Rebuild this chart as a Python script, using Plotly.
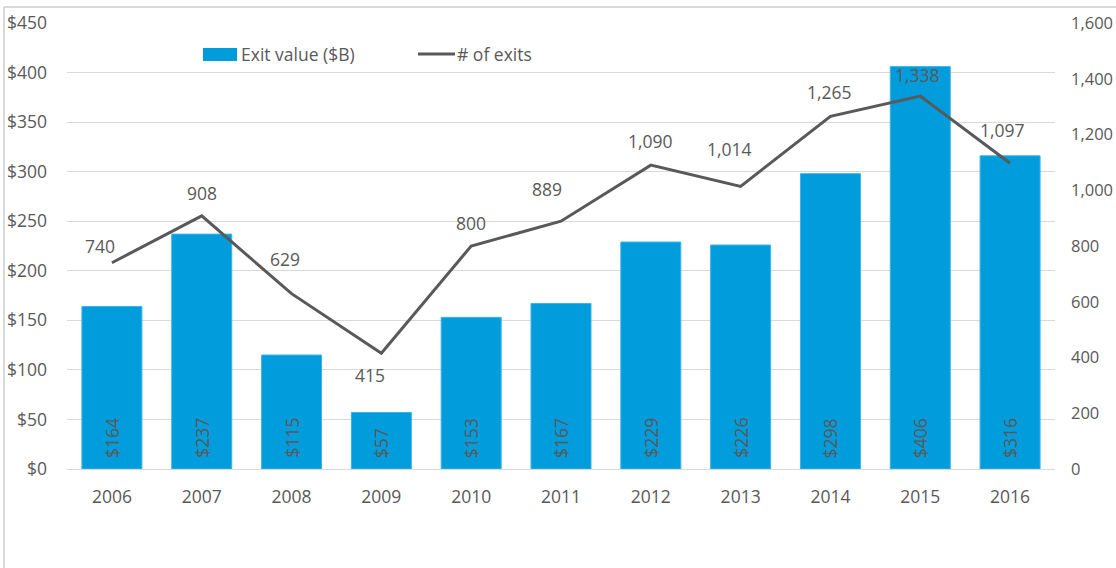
import plotly.graph_objects as go

years = ["2006", "2007", "2008", "2009", "2010", "2011", "2012", "2013", "2014", "2015", "2016"]
exit_value = [164, 237, 115, 57, 153, 167, 229, 226, 298, 406, 316]
num_exits = [740, 908, 629, 415, 800, 889, 1090, 1014, 1265, 1338, 1097]

# label offsets (style) for the line labels, in pixels (dx, dy up)
line_label_dx = [-12, 0, -7, -11, 0, -14, 0, -11, -1, -3, -8]
line_label_dy = [17, 23, 35, -22, 23, 32, 24, 37, 24, 21, 33]

FONT = "Open Sans, Noto Sans, sans-serif"
GREY = "#595959"
FS = 17.5
BLUE = "#009CDC"

# plot area in pixels
L, R, T, B = 67, 61, 23, 99
W, H = 1116, 568
PW, PH = W - L - R, H - T - B


def px(x):
    return (x - L) / PW


def py(y):
    return (H - B - y) / PH


fig = go.Figure()
fig.add_trace(go.Bar(
    x=years, y=exit_value, name="Exit value ($B)",
    marker=dict(color=BLUE, line=dict(color="#3BB3E6", width=1)),
    yaxis="y", showlegend=False,
))
fig.add_trace(go.Scatter(
    x=years, y=num_exits, name="# of exits", mode="lines",
    line=dict(color=GREY, width=3),
    yaxis="y2", showlegend=False,
))

annotations = []
# category axis: annotation x given as category index
for i, v in enumerate(exit_value):
    annotations.append(dict(
        x=i, y=0, xref="x", yref="y", text=f"${v}", showarrow=False,
        textangle=-90, xanchor="center", yanchor="bottom", yshift=9,
        font=dict(family=FONT, size=FS, color=GREY),
    ))
for i, (v, dx, dy) in enumerate(zip(num_exits, line_label_dx, line_label_dy)):
    annotations.append(dict(
        x=i, y=v, xref="x", yref="y2", text=f"{v:,}", showarrow=False,
        xanchor="center", yanchor="middle", xshift=dx, yshift=dy,
        font=dict(family=FONT, size=FS, color=GREY),
    ))

# custom legend
annotations.append(dict(x=px(239), y=py(54), xref="paper", yref="paper",
                        text="Exit value ($B)", showarrow=False, xanchor="left",
                        yanchor="middle", font=dict(family=FONT, size=FS, color=GREY)))
annotations.append(dict(x=px(455), y=py(54), xref="paper", yref="paper",
                        text="# of exits", showarrow=False, xanchor="left",
                        yanchor="middle", font=dict(family=FONT, size=FS, color=GREY)))

shapes = [
    dict(type="rect", xref="paper", yref="paper", x0=px(203), x1=px(237),
         y0=py(61), y1=py(48), fillcolor=BLUE, line=dict(width=0)),
    dict(type="line", xref="paper", yref="paper", x0=px(418), x1=px(455),
         y0=py(54), y1=py(54), line=dict(color=GREY, width=3)),
    dict(type="line", xref="paper", yref="paper", x0=px(4), x1=px(1120),
         y0=py(7), y1=py(7), line=dict(color="#b3b3b3", width=1)),
    dict(type="line", xref="paper", yref="paper", x0=px(4), x1=px(4),
         y0=py(7), y1=py(575), line=dict(color="#b3b3b3", width=1)),
]

fig.update_layout(
    width=W, height=H,
    margin=dict(l=L, r=R, t=T, b=B, autoexpand=False),
    paper_bgcolor="white", plot_bgcolor="white",
    font=dict(family=FONT, color=GREY, size=FS),
    bargap=0.332,
    showlegend=False,
    xaxis=dict(type="category", range=[-0.5, 10.5], showgrid=False, showline=True,
               linecolor="#d9d9d9", linewidth=1, ticks="", ticklabelstandoff=12,
               tickfont=dict(size=FS, color=GREY)),
    yaxis=dict(range=[0, 450], dtick=50, tickprefix="$", showgrid=True,
               gridcolor="#d9d9d9", zeroline=False, ticks="",
               ticklabelstandoff=19, tickfont=dict(size=FS, color=GREY)),
    yaxis2=dict(range=[0, 1600], dtick=200, overlaying="y", side="right",
                showgrid=False, zeroline=False, tickformat=",", ticks="",
                ticklabelstandoff=15, tickfont=dict(size=16.5, color=GREY)),
    annotations=annotations,
    shapes=shapes,
)

fig.write_html("out.html")
